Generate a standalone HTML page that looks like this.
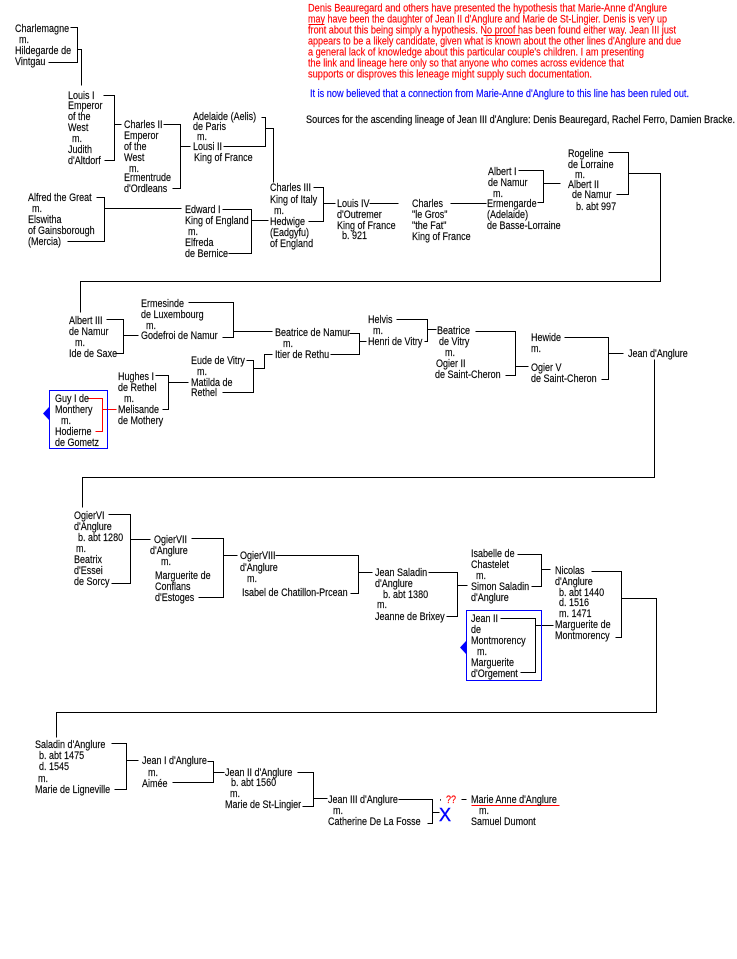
<!DOCTYPE html>
<html><head><meta charset="utf-8"><style>
html,body{margin:0;padding:0;background:#fff;}
svg{display:block;}
text{font-family:"Liberation Sans",Arial,sans-serif;font-size:11px;fill:#000;stroke:#000;stroke-width:.15;}
.r{fill:#f00;stroke:#f00;}
.b{fill:#00f;stroke:#00f;}
</style></head><body>
<svg width="737" height="959" viewBox="0 0 737 959" xmlns="http://www.w3.org/2000/svg">
<rect width="737" height="959" fill="#fff"/>
<g transform="translate(.5,.5)" fill="none" shape-rendering="crispEdges" stroke-width="1">
<path stroke="#000" d="M70 27H77V62H48 M77 49H81V85
M103 95H114V160H104 M114 124H121
M163 124H180V188H172 M180 146H190
M261 117H265V146H223 M265 128H273V182
M313 187H323V221H308 M323 203H335
M96 197H104V241H67 M104 208H181
M222 209H251V253H228 M251 220H268
M369 203H398
M450 203H486
M518 170H543V202H537 M543 183H560
M608 152H628V194H616 M628 173H660V281H80V312
M106 319H123V353H115 M123 335H138
M188 302H233V337H222 M233 331H272
M349 333H359V354H330 M359 341H366
M246 360H253V392H222 M253 368H264V354H272
M155 375H168V409H162 M168 382H188
M396 319H427V341H424 M427 329H436
M475 331H515V375H505 M515 366H528
M564 337H608V379H601 M608 353H623
M654 359V477H82V507
M108 514H130V583H111 M130 539H150
M191 538H223V597H198 M223 555H237
M275 555H358V593H350 M358 572H372
M428 572H457V616H446 M457 585H467
M517 554H541V586H531 M541 569H550
M591 571H621V637H615 M621 598H656V712H56V737
M500 618H535V672H520 M535 625H553
M111 743H126V789H114 M126 760H138
M207 761H213V782H172 M213 772H224
M297 772H313V806H302 M313 798H327
M398 799H432V823H427 M432 812H439
M461 799H466"/>
<path stroke="#f00" d="M87 398H102V431H95 M102 409H116 M471 805H559 M308 24H324 M483 35H519"/>
<rect x="49" y="390" width="58" height="58" stroke="#00f"/>
<rect x="466" y="610" width="75" height="70" stroke="#00f"/>
</g>
<polygon points="43,413.5 49,407 49,420" fill="#00f"/>
<polygon points="460,647.5 466,641 466,654" fill="#00f"/>

<!-- paragraph -->
<text class="r" x="308" y="11.5" textLength="359" lengthAdjust="spacingAndGlyphs">Denis Beauregard and others  have presented the hypothesis that Marie-Anne d'Anglure</text>
<text class="r" x="308" y="22.5" textLength="359" lengthAdjust="spacingAndGlyphs">may have been the daughter of Jean II d'Anglure and Marie de St-Lingier.  Denis is very up</text>
<text class="r" x="308" y="33.5" textLength="368" lengthAdjust="spacingAndGlyphs">front about this being simply a hypothesis.  No proof has been found either way. Jean III just</text>
<text class="r" x="308" y="44.5" textLength="373" lengthAdjust="spacingAndGlyphs">appears to be a likely candidate, given what is  known about the other lines d'Anglure and due</text>
<text class="r" x="308" y="55.5" textLength="336" lengthAdjust="spacingAndGlyphs">a general lack of knowledge about this particular couple's children.   I am presenting</text>
<text class="r" x="308" y="66.5" textLength="316" lengthAdjust="spacingAndGlyphs">the link and lineage here only so that anyone who comes across evidence that</text>
<text class="r" x="308" y="77.5" textLength="284" lengthAdjust="spacingAndGlyphs">supports or disproves this leneage might supply such documentation.</text>
<text class="b" x="310" y="97" textLength="379" lengthAdjust="spacingAndGlyphs">It is now believed that a connection from Marie-Anne d'Anglure to this line has been ruled out.</text>
<text x="306" y="123" textLength="429" lengthAdjust="spacingAndGlyphs">Sources for the ascending lineage of Jean III d'Anglure:  Denis Beauregard, Rachel Ferro, Damien Bracke.</text>

<!-- A -->
<text transform="matrix(.82 0 0 1 15 32)">Charlemagne</text>
<text transform="matrix(.82 0 0 1 19 43)">m.</text>
<text transform="matrix(.82 0 0 1 15 54)">Hildegarde de</text>
<text transform="matrix(.82 0 0 1 15 65)">Vintgau</text>
<!-- B -->
<text transform="matrix(.82 0 0 1 68 99)">Louis I</text>
<text transform="matrix(.82 0 0 1 68 109)">Emperor</text>
<text transform="matrix(.82 0 0 1 68 120)">of the</text>
<text transform="matrix(.82 0 0 1 68 131)">West</text>
<text transform="matrix(.82 0 0 1 72 142)">m.</text>
<text transform="matrix(.82 0 0 1 68 153)">Judith</text>
<text transform="matrix(.82 0 0 1 68 164)">d'Altdorf</text>
<!-- C -->
<text transform="matrix(.82 0 0 1 124 128)">Charles II</text>
<text transform="matrix(.82 0 0 1 124 139)">Emperor</text>
<text transform="matrix(.82 0 0 1 124 150)">of the</text>
<text transform="matrix(.82 0 0 1 124 161)">West</text>
<text transform="matrix(.82 0 0 1 129 172)">m.</text>
<text transform="matrix(.82 0 0 1 124 181)">Ermentrude</text>
<text transform="matrix(.82 0 0 1 124 192)">d'Ordleans</text>
<!-- D -->
<text transform="matrix(.82 0 0 1 193 120)">Adelaide (Aelis)</text>
<text transform="matrix(.82 0 0 1 193 130)">de Paris</text>
<text transform="matrix(.82 0 0 1 197 140)">m.</text>
<text transform="matrix(.82 0 0 1 193 150)">Lousi II</text>
<text transform="matrix(.82 0 0 1 194 161)">King of France</text>
<!-- E -->
<text transform="matrix(.82 0 0 1 270 191)">Charles III</text>
<text transform="matrix(.82 0 0 1 270 203)">King of Italy</text>
<text transform="matrix(.82 0 0 1 274 214)">m.</text>
<text transform="matrix(.82 0 0 1 270 225)">Hedwige</text>
<text transform="matrix(.82 0 0 1 270 236)">(Eadgyfu)</text>
<text transform="matrix(.82 0 0 1 270 247)">of England</text>
<!-- F -->
<text transform="matrix(.82 0 0 1 28 201)">Alfred  the Great</text>
<text transform="matrix(.82 0 0 1 32 212)">m.</text>
<text transform="matrix(.82 0 0 1 28 223)">Elswitha</text>
<text transform="matrix(.82 0 0 1 28 234)">of Gainsborough</text>
<text transform="matrix(.82 0 0 1 28 245)">(Mercia)</text>
<!-- G -->
<text transform="matrix(.82 0 0 1 185 213)">Edward I</text>
<text transform="matrix(.82 0 0 1 185 224)">King of England</text>
<text transform="matrix(.82 0 0 1 188 235)">m.</text>
<text transform="matrix(.82 0 0 1 185 246)">Elfreda</text>
<text transform="matrix(.82 0 0 1 185 257)">de Bernice</text>
<!-- H -->
<text transform="matrix(.82 0 0 1 337 207)">Louis IV</text>
<text transform="matrix(.82 0 0 1 337 218)">d'Outremer</text>
<text transform="matrix(.82 0 0 1 337 229)">King of France</text>
<text transform="matrix(.82 0 0 1 342 239)">b. 921</text>
<!-- I -->
<text transform="matrix(.82 0 0 1 412 207)">Charles</text>
<text transform="matrix(.82 0 0 1 412 218)">"le Gros"</text>
<text transform="matrix(.82 0 0 1 412 229)">"the Fat"</text>
<text transform="matrix(.82 0 0 1 412 240)">King of France</text>
<!-- J -->
<text transform="matrix(.82 0 0 1 488 175)">Albert I</text>
<text transform="matrix(.82 0 0 1 488 186)">de Namur</text>
<text transform="matrix(.82 0 0 1 493 197)">m.</text>
<text transform="matrix(.82 0 0 1 487 207)">Ermengarde</text>
<text transform="matrix(.82 0 0 1 487 218)">(Adelaide)</text>
<text transform="matrix(.82 0 0 1 487 229)">de Basse-Lorraine</text>
<!-- K -->
<text transform="matrix(.82 0 0 1 568 157)">Rogeline</text>
<text transform="matrix(.82 0 0 1 568 168)">de Lorraine</text>
<text transform="matrix(.82 0 0 1 575 178)">m.</text>
<text transform="matrix(.82 0 0 1 568 188)">Albert II</text>
<text transform="matrix(.82 0 0 1 572 198)">de Namur</text>
<text transform="matrix(.82 0 0 1 576 210)">b. abt 997</text>
<!-- L -->
<text transform="matrix(.82 0 0 1 69 324)">Albert III</text>
<text transform="matrix(.82 0 0 1 69 335)">de Namur</text>
<text transform="matrix(.82 0 0 1 75 346)">m.</text>
<text transform="matrix(.82 0 0 1 69 357)">Ide de Saxe</text>
<!-- M -->
<text transform="matrix(.82 0 0 1 141 307)">Ermesinde</text>
<text transform="matrix(.82 0 0 1 141 318)">de Luxembourg</text>
<text transform="matrix(.82 0 0 1 146 329)">m.</text>
<text transform="matrix(.82 0 0 1 141 339)">Godefroi de Namur</text>
<!-- N -->
<text transform="matrix(.82 0 0 1 275 336)">Beatrice de Namur</text>
<text transform="matrix(.82 0 0 1 283 347)">m.</text>
<text transform="matrix(.82 0 0 1 275 358)">Itier de Rethu</text>
<!-- O -->
<text transform="matrix(.82 0 0 1 191 364)">Eude de Vitry</text>
<text transform="matrix(.82 0 0 1 197 375)">m.</text>
<text transform="matrix(.82 0 0 1 191 386)">Matilda de</text>
<text transform="matrix(.82 0 0 1 191 396)">Rethel</text>
<!-- P -->
<text transform="matrix(.82 0 0 1 118 380)">Hughes I</text>
<text transform="matrix(.82 0 0 1 118 391)">de Rethel</text>
<text transform="matrix(.82 0 0 1 124 402)">m.</text>
<text transform="matrix(.82 0 0 1 118 413)">Melisande</text>
<text transform="matrix(.82 0 0 1 118 424)">de Mothery</text>
<!-- Q -->
<text transform="matrix(.82 0 0 1 55 402)">Guy I de</text>
<text transform="matrix(.82 0 0 1 55 413)">Monthery</text>
<text transform="matrix(.82 0 0 1 61 424)">m.</text>
<text transform="matrix(.82 0 0 1 55 435)">Hodierne</text>
<text transform="matrix(.82 0 0 1 55 446)">de Gometz</text>
<!-- R -->
<text transform="matrix(.82 0 0 1 368 323)">Helvis</text>
<text transform="matrix(.82 0 0 1 373 334)">m.</text>
<text transform="matrix(.82 0 0 1 368 345)">Henri de Vitry</text>
<!-- S -->
<text transform="matrix(.82 0 0 1 437 334)">Beatrice</text>
<text transform="matrix(.82 0 0 1 439 345)">de Vitry</text>
<text transform="matrix(.82 0 0 1 445 356)">m.</text>
<text transform="matrix(.82 0 0 1 436 367)">Ogier II</text>
<text transform="matrix(.82 0 0 1 435 378)">de Saint-Cheron</text>
<!-- T -->
<text transform="matrix(.82 0 0 1 531 341)">Hewide</text>
<text transform="matrix(.82 0 0 1 531 352)">m.</text>
<text transform="matrix(.82 0 0 1 531 371)">Ogier V</text>
<text transform="matrix(.82 0 0 1 531 382)">de Saint-Cheron</text>
<!-- U -->
<text transform="matrix(.82 0 0 1 628 357)">Jean d'Anglure</text>
<!-- V -->
<text transform="matrix(.82 0 0 1 74 519)">OgierVI</text>
<text transform="matrix(.82 0 0 1 74 530)">d'Anglure</text>
<text transform="matrix(.82 0 0 1 78 541)">b. abt 1280</text>
<text transform="matrix(.82 0 0 1 76 552)">m.</text>
<text transform="matrix(.82 0 0 1 74 563)">Beatrix</text>
<text transform="matrix(.82 0 0 1 74 574)">d'Essei</text>
<text transform="matrix(.82 0 0 1 74 585)">de Sorcy</text>
<!-- W -->
<text transform="matrix(.82 0 0 1 154 543)">OgierVII</text>
<text transform="matrix(.82 0 0 1 150 554)">d'Anglure</text>
<text transform="matrix(.82 0 0 1 161 565)">m.</text>
<text transform="matrix(.82 0 0 1 155 579)">Marguerite de</text>
<text transform="matrix(.82 0 0 1 155 590)">Conflans</text>
<text transform="matrix(.82 0 0 1 155 601)">d'Estoges</text>
<!-- X -->
<text transform="matrix(.82 0 0 1 240 559)">OgierVIII</text>
<text transform="matrix(.82 0 0 1 240 571)">d'Anglure</text>
<text transform="matrix(.82 0 0 1 247 582)">m.</text>
<text transform="matrix(.82 0 0 1 242 596)">Isabel de Chatillon-Prcean</text>
<!-- Y -->
<text transform="matrix(.82 0 0 1 375 576)">Jean Saladin</text>
<text transform="matrix(.82 0 0 1 375 587)">d'Anglure</text>
<text transform="matrix(.82 0 0 1 383 598)">b. abt 1380</text>
<text transform="matrix(.82 0 0 1 377 608)">m.</text>
<text transform="matrix(.82 0 0 1 375 620)">Jeanne de Brixey</text>
<!-- Z -->
<text transform="matrix(.82 0 0 1 471 557)">Isabelle de</text>
<text transform="matrix(.82 0 0 1 471 568)">Chastelet</text>
<text transform="matrix(.82 0 0 1 476 579)">m.</text>
<text transform="matrix(.82 0 0 1 471 590)">Simon Saladin</text>
<text transform="matrix(.82 0 0 1 471 601)">d'Anglure</text>
<!-- AA -->
<text transform="matrix(.82 0 0 1 555 574)">Nicolas</text>
<text transform="matrix(.82 0 0 1 555 585)">d'Anglure</text>
<text transform="matrix(.82 0 0 1 559 596)">b. abt 1440</text>
<text transform="matrix(.82 0 0 1 559 606)">d. 1516</text>
<text transform="matrix(.82 0 0 1 559 617)">m. 1471</text>
<text transform="matrix(.82 0 0 1 555 628)">Marguerite de</text>
<text transform="matrix(.82 0 0 1 555 639)">Montmorency</text>
<!-- AB -->
<text transform="matrix(.82 0 0 1 471 622)">Jean II</text>
<text transform="matrix(.82 0 0 1 471 633)">de</text>
<text transform="matrix(.82 0 0 1 471 644)">Montmorency</text>
<text transform="matrix(.82 0 0 1 477 655)">m.</text>
<text transform="matrix(.82 0 0 1 471 666)">Marguerite</text>
<text transform="matrix(.82 0 0 1 471 677)">d'Orgement</text>
<!-- AC -->
<text transform="matrix(.82 0 0 1 35 748)">Saladin d'Anglure</text>
<text transform="matrix(.82 0 0 1 39 759)">b. abt 1475</text>
<text transform="matrix(.82 0 0 1 39 770)">d. 1545</text>
<text transform="matrix(.82 0 0 1 38 782)">m.</text>
<text transform="matrix(.82 0 0 1 35 793)">Marie de Ligneville</text>
<!-- AD -->
<text transform="matrix(.82 0 0 1 142 764)">Jean I d'Anglure</text>
<text transform="matrix(.82 0 0 1 148 776)">m.</text>
<text transform="matrix(.82 0 0 1 142 787)">Aimée</text>
<!-- AE -->
<text transform="matrix(.82 0 0 1 225 776)">Jean II d'Anglure</text>
<text transform="matrix(.82 0 0 1 231 786)">b. abt 1560</text>
<text transform="matrix(.82 0 0 1 230 797)">m.</text>
<text transform="matrix(.82 0 0 1 225 808)">Marie de St-Lingier</text>
<!-- AF -->
<text transform="matrix(.82 0 0 1 328 803)">Jean III d'Anglure</text>
<text transform="matrix(.82 0 0 1 333 814)">m.</text>
<text transform="matrix(.82 0 0 1 328 825)">Catherine De La Fosse</text>
<text x="439" y="821" style="font-size:18px;fill:#00f;stroke:#00f;stroke-width:.4">X</text>
<text transform="matrix(.82 0 0 1 439 803)">·</text>
<text class="r" transform="matrix(.82 0 0 1 446 803)">??</text>
<text transform="matrix(.82 0 0 1 471 803)">Marie Anne d'Anglure</text>
<text transform="matrix(.82 0 0 1 479 814)">m.</text>
<text transform="matrix(.82 0 0 1 471 825)">Samuel Dumont</text>
</svg>
</body></html>
